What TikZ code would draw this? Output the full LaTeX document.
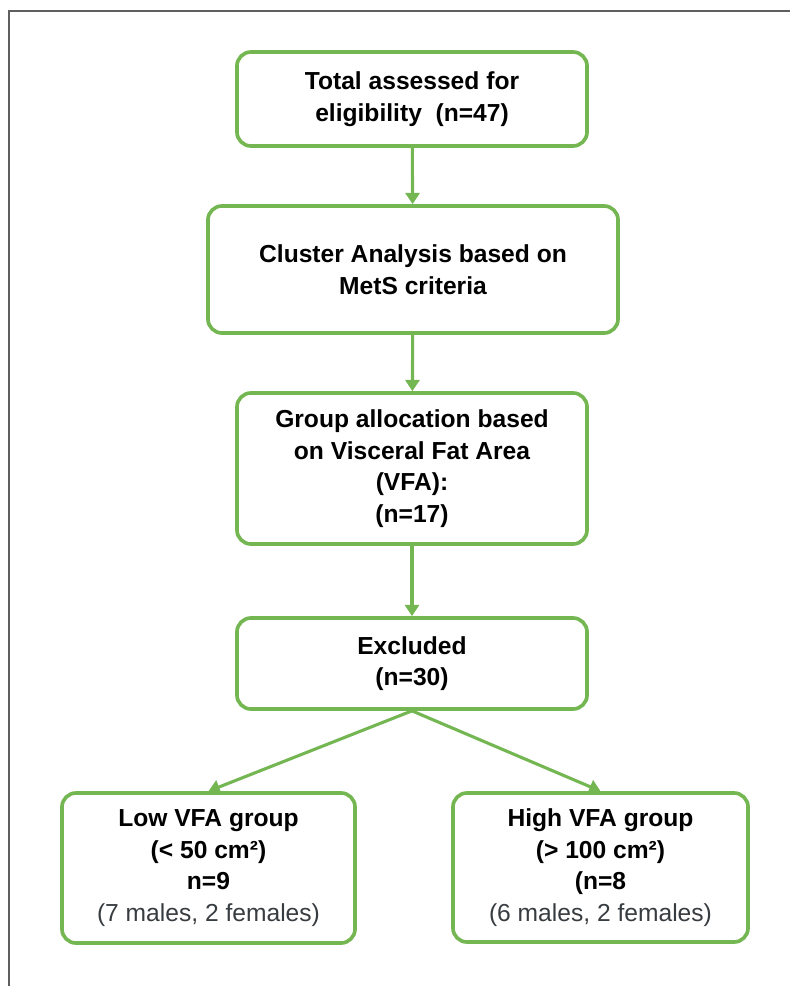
\documentclass[tikz,border=0pt]{standalone}
\usepackage{fontspec}
\setmainfont{Liberation Sans}
\usepackage{tikz}
\usetikzlibrary{arrows.meta, positioning}
\definecolor{boxgreen}{RGB}{116,182,82}
\definecolor{framegray}{RGB}{95,95,95}
\definecolor{notegray}{RGB}{55,60,65}

\tikzset{
    flowbox/.style={draw=boxgreen, line width=2.6pt, rounded corners=10pt, fill=white,
        align=center, inner sep=0pt, font=\fontsize{17.5}{22.5}\selectfont\bfseries},
    flowarrow/.style={draw=boxgreen, line width=2.2pt, -{Triangle[width=10pt,length=8pt]}},
}

\begin{document}
\begin{tikzpicture}[x=0.025cm, y=-0.025cm]
    \useasboundingbox (0,0) rectangle (790,986);
    % frame
    \draw[framegray, line width=1.2pt] (9,986) |- (790,11);

    % main column
    \node[flowbox, minimum width=8.75cm, minimum height=2.35cm] (total) at (412,99)
        {Total assessed for\\eligibility~~(n=47)};
    \node[flowbox, minimum width=10.25cm, minimum height=3.175cm] (cluster) at (413,269.5)
        {Cluster Analysis based on\\MetS criteria};
    \node[flowbox, minimum width=8.75cm, minimum height=3.775cm] (alloc) at (412,468.5)
        {Group allocation based\\on Visceral Fat Area\\(VFA):\\(n=17)};
    \node[flowbox, minimum width=8.75cm, minimum height=2.275cm] (excl) at (412,663.5)
        {Excluded\\(n=30)};

    % groups
    \node[flowbox, minimum width=7.325cm, minimum height=3.75cm] (low) at (208.5,868)
        {Low VFA group\\(< 50 cm²)\\n=9\\{\mdseries\color{notegray}(7 males, 2 females)}};
    \node[flowbox, minimum width=7.375cm, minimum height=3.725cm] (high) at (600.5,867.5)
        {High VFA group\\(> 100 cm²)\\(n=8\\{\mdseries\color{notegray}(6 males, 2 females)}};

    % arrows
    \draw[flowarrow] (total) -- (cluster);
    \draw[flowarrow] (cluster) -- (alloc);
    \draw[flowarrow] (alloc) -- (excl);
    \draw[flowarrow] (excl.south) -- (low.north);
    \draw[flowarrow] (excl.south) -- (high.north);
\end{tikzpicture}
\end{document}
